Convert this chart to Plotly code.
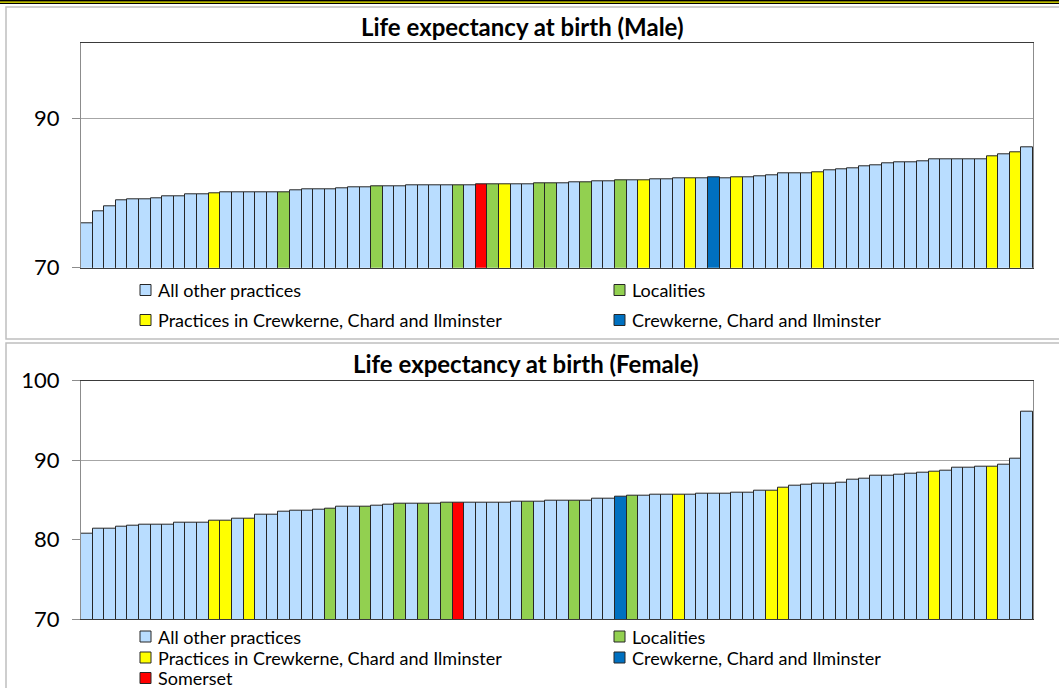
import plotly.graph_objects as go

W, H = 1059, 688

# Male life expectancy by practice, sorted ascending
male_le = [76.0, 77.6, 78.2, 79.0, 79.1, 79.1, 79.25, 79.5, 79.5, 79.8,
           79.8, 79.9, 80.05, 80.05, 80.05, 80.05, 80.05, 80.05, 80.3, 80.45,
           80.45, 80.5, 80.6, 80.7, 80.7, 80.85, 80.85, 80.85, 80.98, 80.98,
           80.98, 80.98, 80.98, 80.98, 81.1, 81.1, 81.1, 81.1, 81.1, 81.25,
           81.27, 81.27, 81.4, 81.4, 81.5, 81.5, 81.65, 81.65, 81.75, 81.8,
           81.8, 81.9, 81.9, 81.95, 82.05, 82.0, 82.15, 82.1, 82.2, 82.4,
           82.6, 82.6, 82.6, 82.75, 83.0, 83.1, 83.3, 83.5, 83.65, 83.95,
           84.1, 84.1, 84.2, 84.45, 84.45, 84.45, 84.55, 84.55, 84.95, 85.15,
           85.45, 86.05]
# O = all other practices, L = localities, P = practices in CCI, C = CCI, S = Somerset
male_grp = list("OOOOOOOOOOOPOOOOOLOOOOOOOLOOOOOOLOSLPOOLLOOLOOLOPOOOPOCOPOOOOOOPOOOOOOOOOOOOOOPOPO")

female_le = [80.8, 81.4, 81.4, 81.7, 81.8, 81.9, 81.9, 81.9, 82.1, 82.2,
             82.2, 82.4, 82.4, 82.7, 82.7, 83.2, 83.2, 83.5, 83.7, 83.7,
             83.8, 83.9, 84.1, 84.1, 84.1, 84.3, 84.4, 84.5, 84.5, 84.5,
             84.5, 84.6, 84.6, 84.6, 84.6, 84.6, 84.7, 84.8, 84.8, 84.8,
             84.9, 84.9, 84.9, 84.9, 85.2, 85.2, 85.4, 85.6, 85.6, 85.7,
             85.7, 85.7, 85.7, 85.8, 85.8, 85.8, 85.9, 85.9, 86.2, 86.2,
             86.5, 86.8, 86.9, 87.0, 87.1, 87.2, 87.6, 87.7, 88.0, 88.1,
             88.2, 88.3, 88.4, 88.6, 88.7, 89.1, 89.1, 89.2, 89.2, 89.4,
             90.2, 96.1]
female_grp = list("OOOOOOOOOOOPPOPOOOOOOLOOLOOLOLOLSOOOOOLOOOLOOOCLOOOPOOOOOOOPPOOOOOOOOOOOOPOOOOPOOO")

assert len(male_le) == len(male_grp) == 82
assert len(female_le) == len(female_grp) == 82

group_names = {"O": "All other practices", "L": "Localities",
               "P": "Practices in Crewkerne, Chard and Ilminster",
               "C": "Crewkerne, Chard and Ilminster", "S": "Somerset"}
group_colors = {"O": "#B9DDFF", "L": "#92D050", "P": "#FFFF00",
                "C": "#0070C0", "S": "#FF0000"}

FONT = "Lato"


def px(x):
    return x / W


def py(y):
    return 1 - y / H


fig = go.Figure()

for vals, grps, xa, ya in [(male_le, male_grp, "x", "y"), (female_le, female_grp, "x2", "y2")]:
    for g in ["O", "L", "P", "C", "S"]:
        idx = [i for i, c in enumerate(grps) if c == g]
        if not idx:
            continue
        fig.add_trace(go.Bar(
            x=idx, y=[vals[i] for i in idx],
            width=1,
            marker=dict(color=group_colors[g], line=dict(color="#262626", width=1)),
            name=group_names[g], showlegend=False,
            xaxis=xa, yaxis=ya,
        ))

xcommon = dict(range=[-0.5, 81.5], showticklabels=False, showgrid=False, zeroline=False,
               showline=True, mirror=True, linecolor="#3a3a3a", linewidth=1,
               automargin=False, domain=[px(81), px(1033)])
ycommon = dict(showgrid=True, gridcolor="#A6A6A6", gridwidth=1, zeroline=False,
               showline=True, mirror=True, linecolor="#8C8C8C", linewidth=1,
               ticks="outside", ticklen=8, tickcolor="#8C8C8C", automargin=False,
               ticklabelstandoff=8,
               tickfont=dict(family=FONT, size=22, color="black"))

fig.update_layout(
    width=W, height=H,
    margin=dict(l=0, r=0, t=0, b=0, pad=0, autoexpand=False),
    paper_bgcolor="white", plot_bgcolor="white",
    barmode="overlay", bargap=0,
    showlegend=False,
    xaxis=dict(anchor="y", **xcommon),
    yaxis=dict(anchor="x", range=[70, 100], tick0=70, dtick=20,
               domain=[py(267.7), py(43.3)], **ycommon),
    xaxis2=dict(anchor="y2", **xcommon),
    yaxis2=dict(anchor="x2", range=[70, 100], tick0=70, dtick=10,
                domain=[py(619.3), py(380.7)], **ycommon),
    font=dict(family=FONT),
)

shapes = [
    # document border at the very top
    dict(type="rect", xref="paper", yref="paper", x0=0, x1=1, y0=py(4), y1=1,
         fillcolor="black", line=dict(width=0)),
    dict(type="line", xref="paper", yref="paper", x0=0, x1=1, y0=py(2.2), y1=py(2.2),
         line=dict(color="#FFFF00", width=1.2)),
    # chart frames
    dict(type="rect", xref="paper", yref="paper", x0=px(6), x1=px(1070), y0=py(339), y1=py(7),
         line=dict(color="#BFBFBF", width=1.5)),
    dict(type="rect", xref="paper", yref="paper", x0=px(6), x1=px(1070), y0=py(700), y1=py(343),
         line=dict(color="#BFBFBF", width=1.5)),
]

annotations = [
    dict(text="<b>Life expectancy at birth (Male)</b>", x=px(522), y=py(26.5),
         xref="paper", yref="paper", showarrow=False, xanchor="center", yanchor="middle",
         font=dict(family=FONT, size=24, color="black")),
    dict(text="<b>Life expectancy at birth (Female)</b>", x=px(526), y=py(363),
         xref="paper", yref="paper", showarrow=False, xanchor="center", yanchor="middle",
         font=dict(family=FONT, size=24, color="black")),
]

male_legend = [("O", 0, 290), ("L", 1, 290), ("P", 0, 320), ("C", 1, 320)]
female_legend = [("O", 0, 636.5), ("L", 1, 636.5), ("P", 0, 657.5), ("C", 1, 657.5), ("S", 0, 678)]
col_x = [140, 614]

for g, col, yc in male_legend + female_legend:
    x0 = col_x[col]
    shapes.append(dict(type="rect", xref="paper", yref="paper",
                       x0=px(x0), x1=px(x0 + 11), y0=py(yc + 5.5), y1=py(yc - 5.5),
                       fillcolor=group_colors[g], line=dict(color="#262626", width=1)))
    annotations.append(dict(text=group_names[g], x=px(x0 + 16), y=py(yc),
                            xref="paper", yref="paper", showarrow=False,
                            xanchor="left", yanchor="middle",
                            font=dict(family=FONT, size=18, color="black")))

fig.update_layout(shapes=shapes, annotations=annotations)

# drop the browser's default body margin so the figure sits at the page corner
fig.write_html("out.html", config={"displayModeBar": False},
               post_script="document.body.style.margin='0px';")
